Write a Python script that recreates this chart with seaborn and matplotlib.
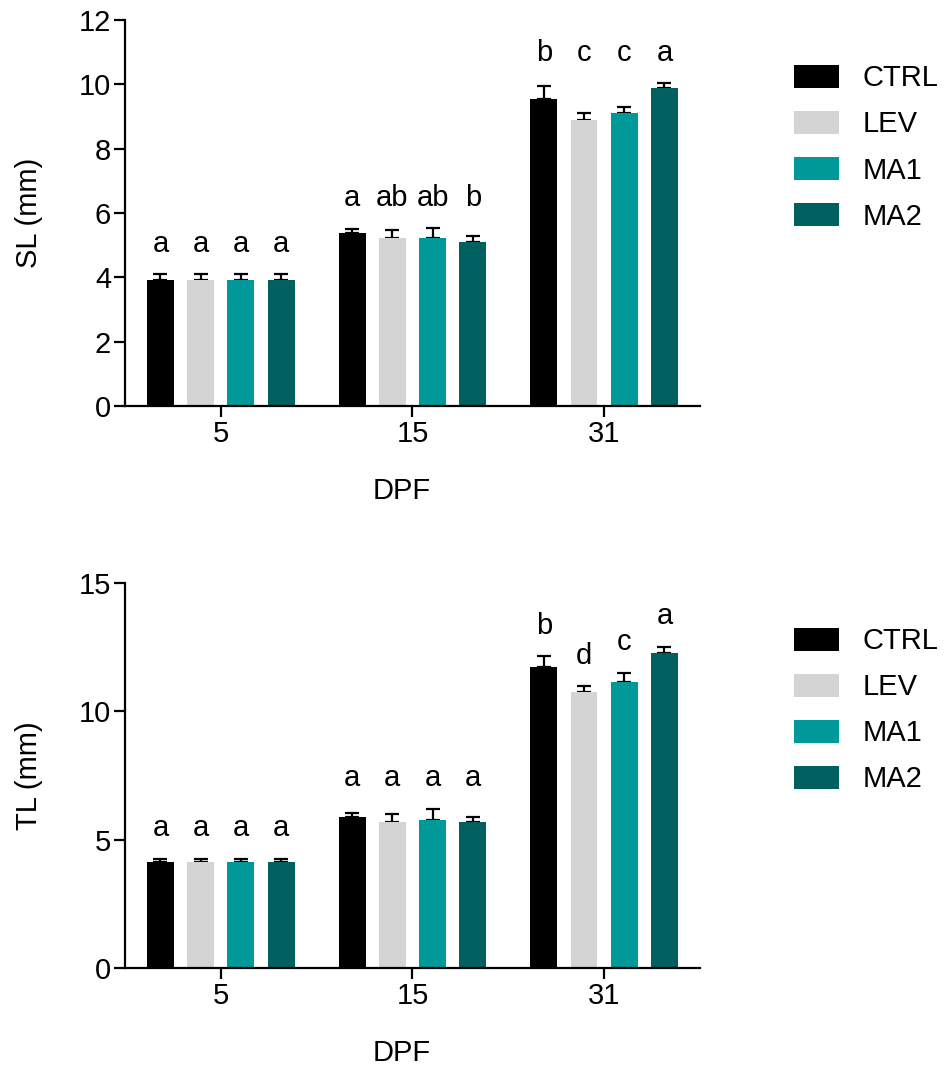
import matplotlib
matplotlib.use("Agg")
import matplotlib.pyplot as plt
import numpy as np
import pandas as pd
import seaborn as sns

# ---------------- data ----------------
dpf = ["5", "15", "31"]
groups = ["CTRL", "LEV", "MA1", "MA2"]
colors = ["#000000", "#D4D4D4", "#009999", "#005F5F"]

# SL (mm): mean and upper error per group at 5, 15, 31 DPF
sl_ctrl = [3.93, 5.37, 9.53]
sl_lev = [3.93, 5.21, 8.89]
sl_ma1 = [3.93, 5.23, 9.10]
sl_ma2 = [3.93, 5.10, 9.88]
sl_err_ctrl = [0.18, 0.12, 0.42]
sl_err_lev = [0.18, 0.25, 0.21]
sl_err_ma1 = [0.18, 0.30, 0.21]
sl_err_ma2 = [0.18, 0.19, 0.17]
sl_letters_ctrl = ["a", "a", "b"]
sl_letters_lev = ["a", "ab", "c"]
sl_letters_ma1 = ["a", "ab", "c"]
sl_letters_ma2 = ["a", "b", "a"]

# TL (mm)
tl_ctrl = [4.11, 5.88, 11.72]
tl_lev = [4.11, 5.67, 10.74]
tl_ma1 = [4.11, 5.77, 11.14]
tl_ma2 = [4.11, 5.67, 12.28]
tl_err_ctrl = [0.15, 0.14, 0.42]
tl_err_lev = [0.15, 0.33, 0.25]
tl_err_ma1 = [0.15, 0.44, 0.37]
tl_err_ma2 = [0.15, 0.21, 0.24]
tl_letters_ctrl = ["a", "a", "b"]
tl_letters_lev = ["a", "a", "d"]
tl_letters_ma1 = ["a", "a", "c"]
tl_letters_ma2 = ["a", "a", "a"]

sl_yticks = [0, 2, 4, 6, 8, 10, 12]
tl_yticks = [0, 5, 10, 15]

# ---------------- style ----------------
sns.set_style("ticks")
plt.rcParams["font.family"] = ["Liberation Sans", "DejaVu Sans"]
for key in ["text.color", "axes.labelcolor", "xtick.color", "ytick.color",
            "axes.edgecolor"]:
    plt.rcParams[key] = "black"
FS = 21


def panel(ax, means, errs, letters, ylabel, yticks, aligned):
    rows = []
    for g, m in zip(groups, means):
        for d, v in zip(dpf, m):
            rows.append({"DPF": d, "Group": g, "value": v})
    df = pd.DataFrame(rows)
    sns.barplot(data=df, x="DPF", y="value", hue="Group", order=dpf,
                hue_order=groups, palette=colors, saturation=1,
                width=0.84, gap=0.33, errorbar=None, ax=ax, legend=True,
                edgecolor="none", zorder=2)

    bar_containers = list(ax.containers)
    xs = np.zeros((len(groups), len(dpf)))
    caps = np.zeros((len(groups), len(dpf)))
    for i, cont in enumerate(bar_containers):
        for j, bar in enumerate(cont.patches):
            x = bar.get_x() + bar.get_width() / 2
            h = bar.get_height()
            xs[i, j] = x
            caps[i, j] = h + errs[i][j]
    for i in range(len(groups)):
        for j in range(len(dpf)):
            h = caps[i, j] - errs[i][j]
            ax.errorbar(xs[i, j], h, yerr=[[0], [errs[i][j]]], fmt="none",
                        ecolor="black", elinewidth=1.6, capsize=5.0,
                        capthick=1.6, zorder=1)

    for j in range(len(dpf)):
        for i in range(len(groups)):
            y = caps[:, j].max() if aligned[j] else caps[i, j]
            ax.annotate(letters[i][j], (xs[i, j], y), xytext=(0, 16),
                        textcoords="offset points", ha="center",
                        va="baseline", fontsize=FS, color="black")

    ax.set_xlim(-0.5, 2.5)
    ax.set_ylim(0, yticks[-1])
    ax.set_yticks(yticks)
    ax.set_xlabel("DPF", fontsize=FS)
    ax.set_ylabel(ylabel, fontsize=FS, labelpad=26)
    ax.xaxis.set_label_coords(0.482, -0.185)
    sns.despine(ax=ax)
    for s in ["left", "bottom"]:
        ax.spines[s].set_linewidth(1.6)
        ax.spines[s].set_color("black")
    ax.tick_params(axis="both", length=8, width=1.6, pad=2,
                   labelsize=FS, direction="out", colors="black")

    handles, labels = ax.get_legend_handles_labels()
    ax.legend(handles, labels, loc="upper left",
              bbox_to_anchor=(1.163, 0.885), frameon=False, borderpad=0,
              borderaxespad=0, handlelength=1.55, handleheight=0.83,
              labelspacing=0.62, handletextpad=0.8, fontsize=FS)


fig = plt.figure(figsize=(9.46, 10.71), dpi=100)
ax1 = fig.add_axes([0.1321, 0.6209, 0.6078, 0.3604])
ax2 = fig.add_axes([0.1321, 0.0962, 0.6078, 0.3595])

panel(ax1,
      [sl_ctrl, sl_lev, sl_ma1, sl_ma2],
      [sl_err_ctrl, sl_err_lev, sl_err_ma1, sl_err_ma2],
      [sl_letters_ctrl, sl_letters_lev, sl_letters_ma1, sl_letters_ma2],
      "SL (mm)", sl_yticks, [True, True, True])
panel(ax2,
      [tl_ctrl, tl_lev, tl_ma1, tl_ma2],
      [tl_err_ctrl, tl_err_lev, tl_err_ma1, tl_err_ma2],
      [tl_letters_ctrl, tl_letters_lev, tl_letters_ma1, tl_letters_ma2],
      "TL (mm)", tl_yticks, [True, True, False])

fig.savefig("out.png", dpi=100)
